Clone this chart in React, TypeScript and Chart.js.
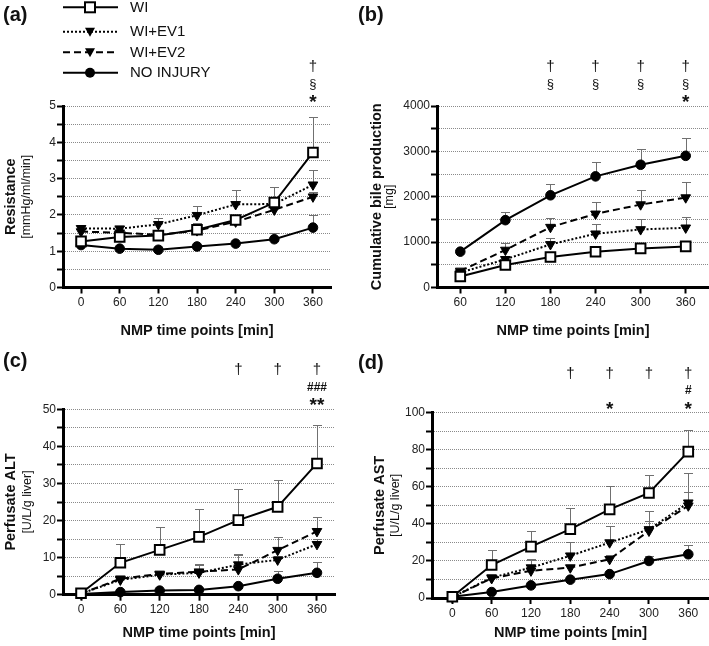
import React, { useEffect, useRef } from "react";
import { Chart, registerables } from "chart.js";

Chart.register(...registerables);

const FONT = "'Liberation Sans', Arial, Helvetica, sans-serif";

// ---------- DATA ----------
const seriesNames = ["WI", "WI+EV1", "WI+EV2", "NO INJURY"];
const timeAll = [0, 60, 120, 180, 240, 300, 360];
const timeBile = [60, 120, 180, 240, 300, 360];
const xAxisTitle = "NMP time points [min]";

// (a) Resistance [mmHg/ml/min]
const resWI = [1.27, 1.39, 1.43, 1.59, 1.86, 2.34, 3.72];
const resWIErr = [0.08, 0.08, 0.1, 0.2, 0.15, 0.42, 0.99];
const resEV1 = [1.63, 1.62, 1.74, 1.99, 2.29, 2.3, 2.83];
const resEV1Err = [0.09, 0.08, 0.17, 0.26, 0.39, 0.1, 0.41];
const resEV2 = [1.54, 1.51, 1.45, 1.57, 1.81, 2.14, 2.5];
const resEV2Err = [0, 0, 0.05, 0.05, 0.05, 0.05, 0.14];
const resNI = [1.17, 1.07, 1.04, 1.13, 1.21, 1.33, 1.65];
const resNIErr = [0, 0, 0, 0, 0, 0.16, 0.36];
const resSig = [["", "", ""], ["", "", ""], ["", "", ""], ["", "", ""], ["", "", ""], ["", "", ""], ["†", "§", "*"]];

// (b) Cumulative bile production [mg]
const bileWI = [241, 497, 672, 789, 862, 906];
const bileWIErr = [20, 40, 50, 60, 60, 60];
const bileEV1 = [329, 621, 950, 1184, 1279, 1316];
const bileEV1Err = [30, 60, 139, 212, 220, 234];
const bileEV2 = [365, 826, 1330, 1623, 1827, 1981];
const bileEV2Err = [40, 146, 198, 270, 315, 351];
const bileNI = [790, 1484, 2032, 2449, 2705, 2902];
const bileNIErr = [0, 175, 256, 307, 358, 387];
const bileSig = [["", "", ""], ["", "", ""], ["†", "§", ""], ["†", "§", ""], ["†", "§", ""], ["†", "§", "*"]];

// (c) Perfusate ALT [U/L/g liver]
const altWI = [0.4, 8.6, 12.1, 15.6, 20.1, 23.7, 35.4];
const altWIErr = [0, 5.1, 6.1, 7.4, 8.3, 7.1, 10.5];
const altEV1 = [0.3, 4.0, 5.4, 5.9, 8.1, 9.4, 13.6];
const altEV1Err = [0, 0.4, 0.5, 2.1, 2.8, 1.0, 1.5];
const altEV2 = [0.3, 4.3, 5.6, 6.2, 6.8, 12.0, 17.1];
const altEV2Err = [0, 0.5, 0.5, 2.0, 3.9, 3.6, 3.8];
const altNI = [0.2, 0.7, 1.1, 1.3, 2.3, 4.3, 5.9];
const altNIErr = [0, 0, 0, 0, 0.3, 2.2, 2.8];
const altSig = [["", "", ""], ["", "", ""], ["", "", ""], ["", "", ""], ["†", "", ""], ["†", "", ""], ["†", "###", "**"]];

// (d) Perfusate AST [U/L/g liver]
const astWI = [0.7, 17.8, 27.7, 37.2, 47.8, 56.7, 79];
const astWIErr = [0, 7.9, 8.5, 11.2, 12.5, 9.5, 11.8];
const astEV1 = [0.5, 11, 16.4, 22.8, 29.9, 37, 51.4];
const astEV1Err = [0, 1.5, 4.6, 7.6, 9.1, 9.9, 16.2];
const astEV2 = [0.5, 10.6, 14.7, 16.4, 20.9, 36.2, 49.8];
const astEV2Err = [0, 1.2, 5.8, 1.5, 2.3, 5.5, 7.2];
const astNI = [0.7, 3.2, 6.8, 9.9, 12.9, 20, 23.6];
const astNIErr = [0, 0, 0, 0, 0.5, 2.8, 4.8];
const astSig = [["", "", ""], ["", "", ""], ["", "", ""], ["†", "", ""], ["†", "", "*"], ["†", "", ""], ["†", "#", "*"]];

// ---------- STYLES ----------
const seriesStyles = [
  { pointStyle: "rect", rotation: 0, radius: 6.8, fill: "#ffffff", pbw: 2, dash: [] as number[] },
  { pointStyle: "triangle", rotation: 180, radius: 5.6, fill: "#000000", pbw: 1, dash: [2, 2] },
  { pointStyle: "triangle", rotation: 180, radius: 5.6, fill: "#000000", pbw: 1, dash: [7, 4] },
  { pointStyle: "circle", rotation: 0, radius: 4.8, fill: "#000000", pbw: 1, dash: [] as number[] },
];

type Area = { left: number; top: number; right: number; bottom: number };
type PanelSpec = {
  left: number; top: number; width: number; height: number;
  area: Area;
  xMin: number; xMax: number; xs: number[];
  yMax: number; yStep: number; yLabelEvery: number;
  yTitle: string; yUnit: string; yTitleX: number; yUnitX: number;
  label: string; labelY: number;
  xTitlePad: number;
  series: { values: number[]; errors: number[] }[];
  sig: string[][];
  legend?: boolean;
};

const panels: PanelSpec[] = [
  {
    left: 0, top: 0, width: 355, height: 345,
    area: { left: 63, top: 106, right: 331, bottom: 287.5 },
    xMin: -28, xMax: 388, xs: timeAll,
    yMax: 5, yStep: 0.5, yLabelEvery: 1,
    yTitle: "Resistance", yUnit: "[mmHg/ml/min]", yTitleX: 11, yUnitX: 27,
    label: "(a)", labelY: 15, xTitlePad: 5.3,
    series: [
      { values: resWI, errors: resWIErr },
      { values: resEV1, errors: resEV1Err },
      { values: resEV2, errors: resEV2Err },
      { values: resNI, errors: resNIErr },
    ],
    sig: resSig, legend: true,
  },
  {
    left: 355, top: 0, width: 354, height: 345,
    area: { left: 82, top: 106, right: 354, bottom: 287.5 },
    xMin: 29, xMax: 391, xs: timeBile,
    yMax: 4000, yStep: 500, yLabelEvery: 1000,
    yTitle: "Cumulative bile production", yUnit: "[mg]", yTitleX: 22, yUnitX: 35,
    label: "(b)", labelY: 15, xTitlePad: 5.3,
    series: [
      { values: bileWI, errors: bileWIErr },
      { values: bileEV1, errors: bileEV1Err },
      { values: bileEV2, errors: bileEV2Err },
      { values: bileNI, errors: bileNIErr },
    ],
    sig: bileSig,
  },
  {
    left: 0, top: 345, width: 355, height: 301,
    area: { left: 63, top: 64.3, right: 335, bottom: 249.7 },
    xMin: -27.5, xMax: 387.5, xs: timeAll,
    yMax: 50, yStep: 5, yLabelEvery: 10,
    yTitle: "Perfusate ALT", yUnit: "[U/L/g liver]", yTitleX: 11, yUnitX: 28,
    label: "(c)", labelY: 16, xTitlePad: 4.3,
    series: [
      { values: altWI, errors: altWIErr },
      { values: altEV1, errors: altEV1Err },
      { values: altEV2, errors: altEV2Err },
      { values: altNI, errors: altNIErr },
    ],
    sig: altSig,
  },
  {
    left: 355, top: 345, width: 354, height: 301,
    area: { left: 77, top: 67.7, right: 354, bottom: 253 },
    xMin: -31, xMax: 391.6, xs: timeAll,
    yMax: 100, yStep: 10, yLabelEvery: 20,
    yTitle: "Perfusate AST", yUnit: "[U/L/g liver]", yTitleX: 25, yUnitX: 41,
    label: "(d)", labelY: 18, xTitlePad: 4.3,
    series: [
      { values: astWI, errors: astWIErr },
      { values: astEV1, errors: astEV1Err },
      { values: astEV2, errors: astEV2Err },
      { values: astNI, errors: astNIErr },
    ],
    sig: astSig,
  },
];

// ---------- PLUGINS ----------
const errorBarPlugin = {
  id: "errorBars",
  beforeDatasetsDraw(chart: any) {
    const { ctx } = chart;
    const ys = chart.scales.y;
    ctx.save();
    ctx.strokeStyle = "#707070";
    ctx.lineWidth = 1;
    chart.data.datasets.forEach((ds: any, di: number) => {
      const meta = chart.getDatasetMeta(di);
      const errs: number[] = ds.errorBars || [];
      meta.data.forEach((pt: any, i: number) => {
        const e = errs[i];
        if (!e) return;
        const v = ds.data[i].y;
        const yTop = Math.round(ys.getPixelForValue(v + e)) + 0.5;
        const x = Math.round(pt.x) + 0.5;
        ctx.beginPath();
        ctx.moveTo(x, pt.y);
        ctx.lineTo(x, yTop);
        ctx.moveTo(x - 4.5, yTop);
        ctx.lineTo(x + 4.5, yTop);
        ctx.stroke();
      });
    });
    ctx.restore();
  },
};

function drawMarker(ctx: CanvasRenderingContext2D, idx: number, x: number, y: number) {
  ctx.save();
  ctx.setLineDash([]);
  if (idx === 0) {
    ctx.fillStyle = "#fff";
    ctx.strokeStyle = "#000";
    ctx.lineWidth = 2;
    ctx.fillRect(x - 5, y - 5, 10, 10);
    ctx.strokeRect(x - 5, y - 5, 10, 10);
  } else if (idx === 1 || idx === 2) {
    ctx.fillStyle = "#000";
    ctx.beginPath();
    ctx.moveTo(x - 5, y - 4);
    ctx.lineTo(x + 5, y - 4);
    ctx.lineTo(x, y + 5);
    ctx.closePath();
    ctx.fill();
  } else {
    ctx.fillStyle = "#000";
    ctx.beginPath();
    ctx.arc(x, y, 5, 0, Math.PI * 2);
    ctx.fill();
  }
  ctx.restore();
}

const legendRows = [7.3, 31.7, 52.3, 72.7];

function makeTextPlugin(spec: PanelSpec) {
  return {
    id: "panelText",
    afterDraw(chart: any) {
      const { ctx, chartArea } = chart;
      const xs = chart.scales.x;
      ctx.save();
      ctx.fillStyle = "#111";
      // panel label
      ctx.font = `bold 20px ${FONT}`;
      ctx.textAlign = "left";
      ctx.textBaseline = "middle";
      ctx.fillText(spec.label, 3, spec.labelY);
      // y title
      const cy = (chartArea.top + chartArea.bottom) / 2;
      ctx.save();
      ctx.translate(spec.yTitleX, cy);
      ctx.rotate(-Math.PI / 2);
      ctx.textAlign = "center";
      ctx.textBaseline = "middle";
      ctx.font = `bold 14.5px ${FONT}`;
      ctx.fillText(spec.yTitle, 0, 0);
      ctx.restore();
      ctx.save();
      ctx.translate(spec.yUnitX, cy);
      ctx.rotate(-Math.PI / 2);
      ctx.textAlign = "center";
      ctx.textBaseline = "middle";
      ctx.font = `12.5px ${FONT}`;
      ctx.fillText(spec.yUnit, 0, 0);
      ctx.restore();
      // significance symbols
      const rowOff = [-39, -22, -9];
      spec.sig.forEach((rows, i) => {
        const x = xs.getPixelForValue(spec.xs[i]);
        rows.forEach((s, r) => {
          if (!s) return;
          const y = chartArea.top + rowOff[r];
          ctx.textAlign = "center";
          if (s.includes("*")) {
            ctx.font = `bold 19px ${FONT}`;
            ctx.textBaseline = "alphabetic";
            ctx.fillText(s, x, y + 10.8);
          } else if (s.includes("#")) {
            ctx.font = `bold 12px ${FONT}`;
            ctx.textBaseline = "middle";
            ctx.fillText(s, x, y);
          } else if (s === "§") {
            ctx.font = `13px ${FONT}`;
            ctx.textBaseline = "middle";
            ctx.fillText(s, x, y);
          } else {
            ctx.font = `15px ${FONT}`;
            ctx.textBaseline = "middle";
            ctx.fillText(s, x, y);
          }
        });
      });
      // legend
      if (spec.legend) {
        seriesNames.forEach((name, i) => {
          const y = legendRows[i];
          ctx.save();
          ctx.strokeStyle = "#000";
          ctx.lineWidth = 2;
          ctx.setLineDash(seriesStyles[i].dash);
          ctx.beginPath();
          ctx.moveTo(63, y);
          ctx.lineTo(118, y);
          ctx.stroke();
          ctx.restore();
          drawMarker(ctx, i, 90, y);
          ctx.fillStyle = "#111";
          ctx.font = `15px ${FONT}`;
          ctx.textAlign = "left";
          ctx.textBaseline = "middle";
          ctx.fillText(name, 130, y + 0.5);
        });
      }
      ctx.restore();
    },
  };
}

function buildConfig(spec: PanelSpec): any {
  const datasets = spec.series.map((s, i) => {
    const st = seriesStyles[i];
    return {
      label: seriesNames[i],
      data: spec.xs.map((x, j) => ({ x, y: s.values[j] })),
      errorBars: s.errors,
      borderColor: "#000",
      borderWidth: 2,
      borderDash: st.dash,
      tension: 0,
      fill: false,
      clip: false,
      pointStyle: st.pointStyle,
      rotation: st.rotation,
      pointRotation: st.rotation,
      pointRadius: st.radius,
      pointBackgroundColor: st.fill,
      pointBorderColor: "#000",
      pointBorderWidth: st.pbw,
    };
  });
  const isMajor = (v: number) => Math.abs(v / spec.yLabelEvery - Math.round(v / spec.yLabelEvery)) < 1e-6;
  return {
    type: "line",
    data: { datasets },
    options: {
      animation: false,
      responsive: false,
      maintainAspectRatio: false,
      events: [],
      layout: {
        autoPadding: false,
        padding: { left: 0, top: spec.area.top, right: spec.width - spec.area.right, bottom: 0 },
      },
      plugins: { legend: { display: false }, tooltip: { enabled: false } },
      scales: {
        x: {
          type: "linear",
          min: spec.xMin,
          max: spec.xMax,
          afterBuildTicks: (s: any) => {
            s.ticks = spec.xs.map((v) => ({ value: v }));
          },
          afterFit: (s: any) => {
            s.height = spec.height - spec.area.bottom;
          },
          grid: { drawOnChartArea: false, drawTicks: true, tickLength: 6, tickWidth: 2, tickColor: "#000" },
          border: { color: "#000", width: 3 },
          ticks: {
            color: "#222",
            font: { family: FONT, size: 12 },
            padding: 2,
            maxRotation: 0,
            autoSkip: false,
            callback: (v: number) => String(v),
          },
          title: {
            display: true,
            text: xAxisTitle,
            color: "#111",
            font: { family: FONT, size: 14.5, weight: "bold" },
            padding: { top: 0, bottom: spec.xTitlePad },
          },
        },
        y: {
          type: "linear",
          min: 0,
          max: spec.yMax,
          afterFit: (s: any) => {
            s.width = spec.area.left;
          },
          grid: {
            color: "#8a8a8a",
            lineWidth: 1,
            drawTicks: true,
            tickLength: 6,
            tickWidth: 2,
            tickColor: "#000",
          },
          border: { color: "#000", width: 3, dash: [1, 1] },
          ticks: {
            stepSize: spec.yStep,
            autoSkip: false,
            color: "#222",
            font: { family: FONT, size: 12 },
            padding: 1,
            callback: (v: number) => (isMajor(v) ? String(v) : ""),
          },
        },
      },
    },
    plugins: [errorBarPlugin, makeTextPlugin(spec)],
  };
}

function Panel({ spec }: { spec: PanelSpec }) {
  const ref = useRef<HTMLCanvasElement>(null);
  useEffect(() => {
    const chart = new Chart(ref.current as HTMLCanvasElement, buildConfig(spec));
    return () => chart.destroy();
  }, [spec]);
  return (
    <canvas
      ref={ref}
      width={spec.width}
      height={spec.height}
      style={{ position: "absolute", left: spec.left, top: spec.top, width: spec.width, height: spec.height }}
    />
  );
}

export default function App() {
  return (
    <div style={{ position: "absolute", left: 0, top: 0, width: 709, height: 646, background: "#fff", overflow: "hidden" }}>
      {panels.map((p, i) => (
        <Panel key={i} spec={p} />
      ))}
    </div>
  );
}
